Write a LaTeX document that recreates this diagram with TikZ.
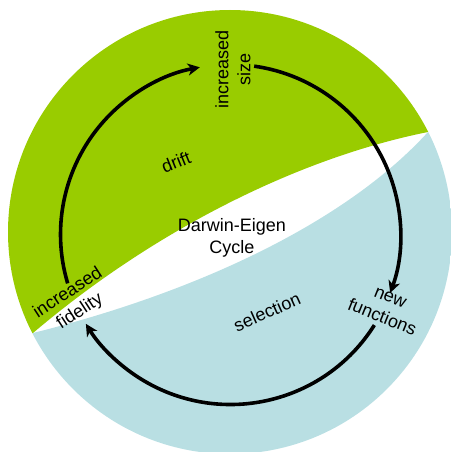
\documentclass[tikz,border=0pt]{standalone}
\usepackage{fontspec}
\setmainfont{Liberation Sans}
\usetikzlibrary{arrows.meta}
\definecolor{driftgreen}{RGB}{153,204,0}
\definecolor{selblue}{RGB}{185,223,227}
\begin{document}
\begin{tikzpicture}[x=1pt,y=-1pt,
  lbl/.style={font=\fontsize{18}{22}\selectfont, align=center, inner sep=0pt},
  cyc/.style={line width=3.6pt, -{Stealth[length=12pt,width=12pt,inset=3.5pt]}}]
\useasboundingbox (0,0) rectangle (450,452);
% disc split into a drift half and a selection half
\coordinate (O) at (230,232);
\coordinate (L) at (33,333);
\coordinate (R) at (428,132);
\begin{scope}
  \clip (O) circle (222);
  \fill[driftgreen] (L) .. controls (153,231) and (298,158) .. (R)
    -- (470,100) -- (470,-20) -- (-20,-20) -- (-20,340) -- cycle;
  \fill[selblue] (L) .. controls (203,290.5) and (348,220) .. (R)
    -- (470,100) -- (470,470) -- (-20,470) -- (-20,340) -- cycle;
\end{scope}
% labels
\node[lbl] (centre) at (232,238) {Darwin-Eigen\\Cycle};
\node[lbl, rotate=90] (size) at (233,69) {increased\\size};
\node[lbl, rotate=-22] (func) at (386,308) {new\\functions};
\node[lbl, rotate=33] (fid) at (74,302.5) {increased\\fidelity};
\node[lbl, rotate=22] (drift) at (176,162) {drift};
\node[lbl, rotate=24] (sel) at (267,312) {selection};
% the cycle of arrows
\coordinate (C) at (230.5,234.5);
\coordinate (fidout) at ([shift={(163.3:170)}]C);
\coordinate (sizeout) at ([shift={(-82:170)}]C);
\coordinate (funcout) at ([shift={(32.2:170)}]C);
\draw[cyc] (fidout) arc[start angle=163.3, end angle=259.6, radius=170];
\draw[cyc] (sizeout) arc[start angle=-82, end angle=20.1, radius=170];
\draw[cyc] (funcout) arc[start angle=32.2, end angle=148.3, radius=170];
\end{tikzpicture}
\end{document}
